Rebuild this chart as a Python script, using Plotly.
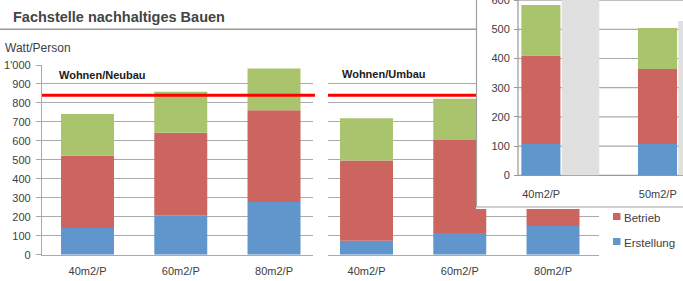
import plotly.graph_objects as go
import numpy as np

W, H = 683, 281

# ---------------- data ----------------
series_names = ["Erstellung", "Betrieb", "Mobilität"]
series_colors = ["#6096cc", "#cc6460", "#a9c46c"]

cats_neubau = ["40m2/P", "60m2/P", "80m2/P"]
neubau_erstellung = [141, 208, 278]
neubau_betrieb = [381, 435, 483]
neubau_mobilitaet = [220, 216, 221]

cats_umbau = ["40m2/P", "60m2/P", "80m2/P"]
umbau_erstellung = [74, 114, 151]
umbau_betrieb = [423, 491, 560]
umbau_mobilitaet = [222, 217, 220]

cats_inset = ["40m2/P", "50m2/P"]
inset_erstellung = [107, 107]
inset_betrieb = [303, 257]
inset_mobilitaet = [173, 140]
inset_grey = [640, 528]

target_line = 840

main_tickvals = [0, 100, 200, 300, 400, 500, 600, 700, 800, 900, 1000]
main_ticktext = ["0", "100", "200", "300", "400", "500", "600", "700", "800", "900", "1'000"]
inset_tickvals = [0, 100, 200, 300, 400, 500, 600]

panel_titles = ["Wohnen/Neubau", "Wohnen/Umbau"]
chart_title = "Fachstelle nachhaltiges Bauen"
unit_label = "Watt/Person"


def px(x):
    return x / W


def py(y):
    return (H - y) / H


TXT = "#404040"
GRID = "#aaaaaa"
FONT = "Liberation Sans, Arial, sans-serif"

fig = go.Figure()


def add_stack(cats, segs, xa, ya, width, offset):
    base = np.zeros(len(cats))
    for vals, name, col in zip(segs, series_names, series_colors):
        fig.add_trace(go.Bar(
            x=cats, y=vals, base=base.copy(), name=name, marker_color=col,
            marker_line_width=0, width=width, offset=offset,
            xaxis=xa, yaxis=ya, showlegend=False))
        base = base + np.array(vals)


add_stack(cats_neubau, [neubau_erstellung, neubau_betrieb, neubau_mobilitaet],
          "x", "y", 0.568, -0.284)
add_stack(cats_umbau, [umbau_erstellung, umbau_betrieb, umbau_mobilitaet],
          "x2", "y2", 0.568, -0.284)
add_stack(cats_inset, [inset_erstellung, inset_betrieb, inset_mobilitaet],
          "x3", "y3", 0.335, -0.17)
fig.add_trace(go.Bar(x=cats_inset, y=inset_grey, base=[0, 0], name="",
                     marker_color="#e0e0e0", marker_line_width=0,
                     width=0.322, offset=0.176, xaxis="x3", yaxis="y3",
                     showlegend=False))

axis_font = dict(family=FONT, size=11, color=TXT)
common = dict(automargin=False, ticklabeloverflow="allow")

fig.update_layout(
    width=W, height=H, margin=dict(l=0, r=0, t=0, b=0, autoexpand=False),
    paper_bgcolor="white", plot_bgcolor="white",
    barmode="overlay", showlegend=False,
    font=dict(family=FONT, color=TXT),
    xaxis=dict(domain=[px(42), px(313)], range=[-0.488, 2.418], type="category",
               showgrid=False, showline=True, linecolor=GRID, linewidth=1.2,
               ticks="", tickfont=axis_font, ticklabelstandoff=6, anchor="y", **common),
    yaxis=dict(domain=[py(254.7), py(65)], range=[0, 1000],
               tickvals=main_tickvals, ticktext=main_ticktext,
               showgrid=True, gridcolor=GRID, gridwidth=1.2, zeroline=False,
               showline=True, linecolor=GRID, linewidth=1.2,
               ticks="outside", ticklen=5, tickcolor=GRID, tickwidth=1.2,
               tickfont=axis_font, ticklabelstandoff=3, anchor="x", **common),
    xaxis2=dict(domain=[px(328), px(599)], range=[-0.413, 2.493], type="category",
                showgrid=False, showline=True, linecolor=GRID, linewidth=1.2,
                ticks="", tickfont=axis_font, ticklabelstandoff=6, anchor="y2", **common),
    yaxis2=dict(domain=[py(254.7), py(65)], range=[0, 1000],
                tickvals=main_tickvals, showticklabels=False,
                showgrid=True, gridcolor=GRID, gridwidth=1.2, zeroline=False,
                showline=False, ticks="", anchor="x2", **common),
    xaxis3=dict(domain=[px(476), 1], range=[-0.559, 1.216], type="category",
                anchor="free", position=py(175.3),
                showgrid=False, showline=False, ticks="",
                tickfont=axis_font, ticklabelstandoff=11, **common),
    yaxis3=dict(domain=[py(209), 1], range=[-115.4, 600.3],
                anchor="free", position=px(518),
                tickvals=inset_tickvals, showgrid=False, zeroline=False,
                showline=False, ticks="outside", ticklen=4, tickcolor="#999999",
                tickfont=axis_font, ticklabelstandoff=2, **common),
)

shapes = []
# inset gridlines & axis lines (drawn inside inset subplot, under its bars)
x_axis_pos = (518 - 541.2) / 116.6
for v in inset_tickvals[1:]:
    shapes.append(dict(type="line", xref="x3", yref="y3", x0=x_axis_pos, x1=1.3,
                       y0=v, y1=v, line=dict(color=GRID, width=1.2), layer="below"))
shapes.append(dict(type="line", xref="x3", yref="y3", x0=x_axis_pos, x1=1.3,
                   y0=0, y1=0, line=dict(color="#999999", width=1.2), layer="below"))
shapes.append(dict(type="line", xref="x3", yref="y3", x0=x_axis_pos, x1=x_axis_pos,
                   y0=0, y1=620, line=dict(color="#999999", width=1.2), layer="below"))
# target lines
shapes.append(dict(type="line", xref="paper", yref="y", x0=px(42), x1=px(315),
                   y0=target_line, y1=target_line, line=dict(color="#ff0000", width=3),
                   layer="above"))
shapes.append(dict(type="line", xref="paper", yref="y2", x0=px(328), x1=px(476),
                   y0=target_line, y1=target_line, line=dict(color="#ff0000", width=3),
                   layer="above"))
# title underline
shapes.append(dict(type="line", xref="paper", yref="paper", x0=0, x1=px(476),
                   y0=py(29.3), y1=py(29.3), line=dict(color="#9a9a9a", width=1.5),
                   layer="above"))
# inset frame
shapes.append(dict(type="line", xref="paper", yref="paper", x0=px(476.5), x1=px(476.5),
                   y0=py(207), y1=1, line=dict(color="#a0a0a0", width=1.2), layer="above"))
shapes.append(dict(type="line", xref="paper", yref="paper", x0=px(476.5), x1=1,
                   y0=py(207), y1=py(207), line=dict(color="#a0a0a0", width=1.2), layer="above"))
# legend swatches
for yc, col in [(216.5, series_colors[1]), (241.5, series_colors[0])]:
    shapes.append(dict(type="rect", xref="paper", yref="paper",
                       x0=px(613), x1=px(620.5), y0=py(yc + 3.5), y1=py(yc - 3.5),
                       fillcolor=col, line=dict(width=0), layer="above"))
fig.update_layout(shapes=shapes)

ann = [
    dict(x=px(11), y=py(17), text="<b>" + chart_title + "</b>",
         font=dict(family=FONT, size=14.5, color="#444444")),
    dict(x=px(3), y=py(48), text=unit_label, font=dict(family=FONT, size=12, color=TXT)),
    dict(x=px(57), y=py(75.5), text="<b>" + panel_titles[0] + "</b>",
         font=dict(family=FONT, size=11, color="#1a1a1a")),
    dict(x=px(340), y=py(74), text="<b>" + panel_titles[1] + "</b>",
         font=dict(family=FONT, size=11, color="#1a1a1a")),
    dict(x=px(622), y=py(218), text=series_names[1], font=dict(family=FONT, size=11.5, color=TXT)),
    dict(x=px(622), y=py(243), text=series_names[0], font=dict(family=FONT, size=11.5, color=TXT)),
]
for a in ann:
    a.update(xref="paper", yref="paper", xanchor="left", yanchor="middle",
             showarrow=False)
fig.update_layout(annotations=ann)

fig.write_html("out.html", config={"displayModeBar": False},
               post_script="document.body.style.margin='0px';")
